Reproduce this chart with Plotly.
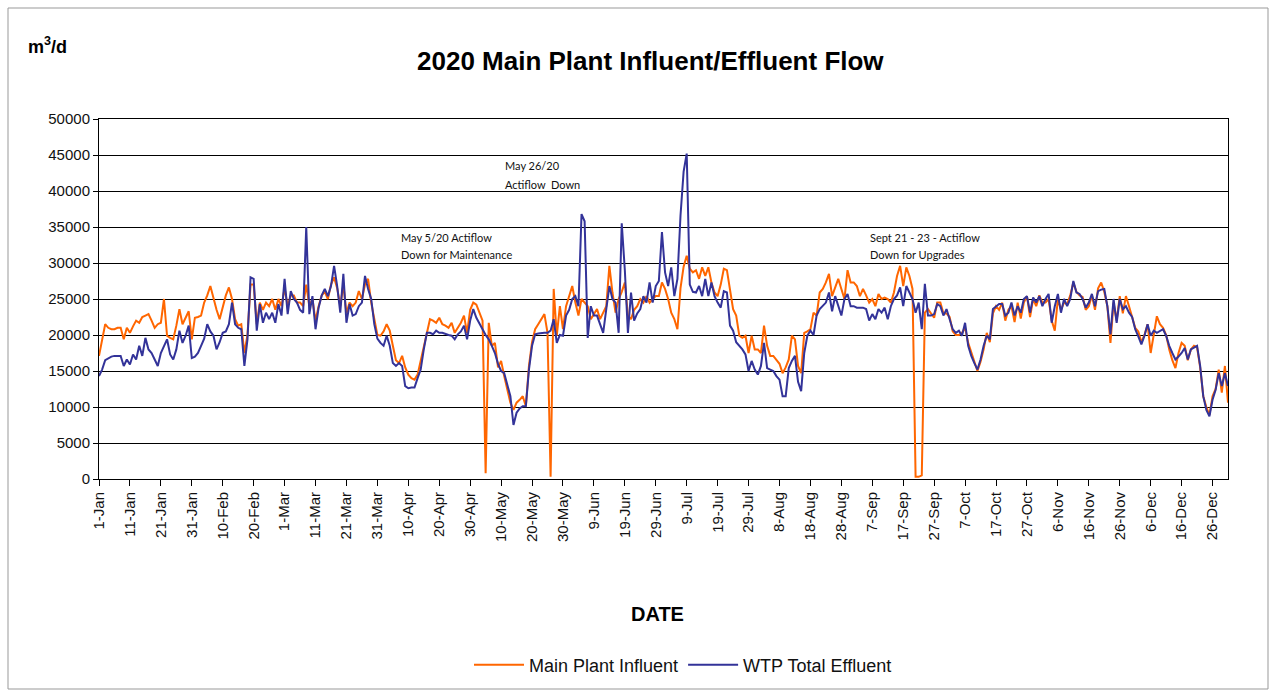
import pandas as pd
import plotly.graph_objects as go

SCALE = 1000  # monthly lists below are in thousands of m3/d

influent_jan = [17.1, 19.5, 21.5, 21.0, 20.8, 20.8, 21.0, 21.0, 19.4, 21.0, 20.3, 21.2, 22.0, 21.7, 22.5, 22.7,
                22.9, 22.0, 21.0, 21.5, 21.7, 25.0, 19.9, 19.6, 19.4, 21.3, 23.6, 21.5, 22.5, 23.3, 19.4]
influent_feb = [22.4, 22.5, 22.7, 24.5, 25.5, 26.8, 25.0, 23.5, 22.2, 24.0, 25.5, 26.6, 25.0, 22.2, 21.3, 21.5,
                17.5, 20.0, 27.0, 27.0, 21.5, 24.5, 23.5, 24.5, 24.0, 25.0, 23.5, 25.0, 24.0]
influent_mar = [26.5, 24.0, 25.5, 25.5, 24.5, 24.5, 24.0, 27.0, 24.0, 25.0, 22.0, 24.0, 25.5, 26.0, 25.0, 27.0,
                28.0, 26.5, 24.0, 27.0, 23.0, 24.5, 24.0, 24.5, 26.1, 25.0, 27.0, 27.8, 24.5, 22.0, 20.0]
influent_apr = [19.9, 20.5, 21.5, 20.6, 18.5, 16.5, 16.1, 17.1, 15.5, 14.5, 14.0, 13.8, 14.5, 16.5, 18.5, 20.1,
                22.2, 22.0, 21.7, 22.4, 21.5, 21.3, 21.0, 21.7, 20.3, 21.0, 21.7, 22.7, 20.3, 23.5]
influent_may = [24.5, 24.2, 23.0, 22.0, 0.8, 21.7, 18.5, 18.9, 15.5, 16.4, 14.3, 12.5, 10.6, 9.6, 10.6, 11.0,
                11.5, 10.1, 15.7, 19.0, 20.8, 21.5, 22.2, 22.9, 20.3, 0.3, 26.4, 19.9, 24.0, 20.8, 24.0]
influent_jun = [25.5, 26.8, 24.5, 22.7, 25.0, 24.5, 24.0, 22.2, 23.0, 23.6, 22.2, 23.1, 24.0, 29.6, 25.9, 23.1,
                25.0, 26.0, 27.3, 22.7, 22.2, 23.5, 24.0, 25.0, 24.5, 25.4, 24.5, 25.0, 25.4, 25.4]
influent_jul = [27.3, 26.4, 25.0, 23.1, 22.2, 20.8, 26.5, 29.5, 31.0, 29.2, 28.7, 29.0, 27.8, 29.4, 28.2, 29.4,
                27.3, 25.9, 25.4, 27.0, 29.2, 29.0, 26.4, 23.6, 22.7, 19.9, 19.6, 19.9, 17.5, 19.9, 18.0]
influent_aug = [18.0, 17.5, 21.3, 18.5, 17.1, 17.1, 16.6, 16.0, 14.7, 15.5, 16.6, 19.9, 19.4, 15.7, 14.7, 20.3,
                20.5, 20.8, 23.1, 22.7, 25.9, 26.4, 27.3, 28.5, 25.4, 26.5, 27.8, 26.4, 25.0, 29.0, 27.3]
influent_sep = [27.3, 26.8, 25.4, 26.4, 25.5, 24.5, 25.0, 24.0, 25.7, 25.0, 25.2, 25.0, 24.5, 25.9, 28.2, 29.6,
                26.8, 29.4, 28.2, 26.4, 0.3, 0.3, 0.5, 23.1, 23.6, 23.0, 22.4, 24.5, 24.5, 23.0]
influent_oct = [23.0, 22.5, 20.5, 20.0, 20.0, 20.3, 21.0, 18.9, 17.5, 16.3, 15.0, 16.3, 18.0, 20.3, 19.0, 23.0,
                24.0, 23.5, 24.5, 22.0, 23.5, 24.0, 21.8, 24.5, 22.3, 24.5, 25.4, 22.5, 25.0, 24.0, 25.5]
influent_nov = [24.5, 24.5, 25.0, 22.0, 20.6, 25.0, 23.5, 24.5, 24.3, 25.5, 27.3, 26.0, 25.5, 25.3, 23.5, 24.0,
                25.5, 23.5, 26.5, 27.3, 26.0, 24.0, 18.9, 24.5, 22.0, 25.4, 23.0, 25.4, 24.0, 22.5]
influent_dec = [21.0, 20.5, 19.0, 20.0, 21.5, 17.5, 20.0, 22.6, 21.5, 21.0, 20.0, 18.0, 16.5, 15.4, 17.5, 18.9,
                18.5, 16.5, 18.0, 18.5, 18.3, 15.5, 11.5, 10.0, 8.9, 11.5, 12.5, 15.2, 12.0, 15.7, 10.6]

effluent_jan = [14.3, 15.2, 16.5, 16.8, 17.0, 17.1, 17.1, 17.1, 15.7, 16.6, 15.9, 17.3, 16.6, 18.5, 17.1, 19.6,
                18.0, 17.5, 16.6, 15.7, 17.5, 18.5, 19.4, 17.3, 16.6, 18.0, 20.6, 18.9, 19.9, 21.3, 16.8]
effluent_feb = [17.0, 17.5, 18.5, 19.5, 21.5, 20.5, 19.9, 18.0, 19.0, 20.3, 20.5, 21.5, 24.5, 21.5, 21.0, 20.8,
                15.7, 19.4, 28.0, 27.8, 20.6, 24.3, 21.7, 23.1, 22.2, 23.1, 21.7, 24.3, 22.7]
effluent_mar = [27.8, 22.9, 26.1, 25.0, 24.5, 23.5, 23.1, 35.0, 22.9, 25.4, 20.8, 23.8, 25.5, 26.4, 25.4, 26.8,
                29.6, 26.8, 23.1, 28.5, 21.7, 24.3, 22.7, 22.9, 24.0, 24.5, 28.2, 26.4, 25.0, 21.5, 19.5]
effluent_apr = [18.9, 18.5, 19.9, 18.5, 16.1, 15.7, 16.1, 15.7, 12.9, 12.6, 12.7, 12.7, 14.0, 15.2, 18.0, 20.3,
                20.3, 20.1, 20.6, 20.3, 20.3, 20.1, 20.0, 19.9, 19.4, 20.1, 20.5, 21.3, 19.4, 22.0]
effluent_may = [23.6, 22.4, 21.5, 20.8, 20.0, 19.4, 18.5, 17.5, 16.0, 15.0, 14.7, 13.0, 11.5, 7.5, 9.2, 9.8,
                10.1, 10.1, 15.2, 18.5, 20.1, 20.2, 20.3, 20.3, 20.3, 20.6, 22.2, 18.9, 20.0, 19.9, 22.7]
effluent_jun = [23.5, 25.0, 25.4, 24.0, 36.8, 35.8, 19.6, 24.0, 22.7, 22.7, 21.5, 20.3, 23.6, 26.8, 25.0, 24.5,
                20.3, 35.5, 29.0, 20.3, 25.9, 22.0, 23.0, 23.6, 25.4, 24.5, 27.3, 24.5, 26.8, 27.5]
effluent_jul = [34.3, 28.7, 26.8, 29.4, 25.4, 27.8, 36.6, 42.7, 45.2, 27.0, 26.0, 25.9, 26.8, 25.4, 27.8, 25.4,
                27.3, 25.4, 24.5, 23.8, 26.1, 25.9, 21.3, 20.6, 19.0, 18.5, 18.0, 17.3, 15.0, 16.4, 15.2]
effluent_aug = [14.5, 15.7, 18.9, 15.4, 15.2, 15.0, 14.3, 13.8, 11.5, 11.5, 15.4, 16.4, 17.1, 13.5, 12.2, 17.5,
                19.9, 20.6, 20.0, 22.7, 23.6, 24.0, 24.5, 25.9, 23.3, 25.4, 24.0, 22.7, 25.0, 25.7, 24.0]
effluent_sep = [24.0, 23.8, 23.8, 23.8, 23.6, 22.0, 22.9, 22.2, 23.6, 23.1, 23.8, 22.2, 24.0, 25.0, 25.5, 26.6,
                24.0, 26.8, 25.9, 25.0, 23.1, 24.5, 20.8, 27.1, 22.7, 22.7, 22.9, 24.3, 24.0, 22.7]
effluent_oct = [23.6, 22.0, 20.8, 20.3, 20.6, 19.9, 21.7, 18.5, 17.1, 16.1, 15.2, 16.6, 18.5, 19.9, 19.4, 23.6,
                24.0, 24.3, 24.3, 22.7, 23.1, 24.5, 22.7, 24.0, 23.1, 25.0, 25.4, 23.1, 25.2, 24.5, 25.4]
effluent_nov = [24.0, 25.0, 25.7, 21.7, 24.0, 25.7, 23.1, 25.0, 24.0, 25.0, 27.5, 25.9, 25.7, 25.0, 23.8, 24.5,
                25.7, 24.0, 26.1, 26.3, 26.4, 24.0, 20.1, 25.0, 21.7, 25.0, 23.6, 24.0, 23.1, 22.5]
effluent_dec = [20.8, 19.8, 18.7, 19.9, 21.5, 19.9, 20.6, 20.3, 20.5, 20.8, 19.9, 18.5, 17.5, 16.6, 17.0, 17.5,
                18.2, 16.6, 18.0, 18.3, 18.5, 15.7, 11.5, 9.6, 8.7, 11.0, 12.4, 14.7, 12.9, 14.7, 12.9]

tick_labels = ["1-Jan", "11-Jan", "21-Jan", "31-Jan", "10-Feb", "20-Feb", "1-Mar", "11-Mar", "21-Mar",
               "31-Mar", "10-Apr", "20-Apr", "30-Apr", "10-May", "20-May", "30-May", "9-Jun", "19-Jun",
               "29-Jun", "9-Jul", "19-Jul", "29-Jul", "8-Aug", "18-Aug", "28-Aug", "7-Sep", "17-Sep",
               "27-Sep", "7-Oct", "17-Oct", "27-Oct", "6-Nov", "16-Nov", "26-Nov", "6-Dec", "16-Dec", "26-Dec"]
y_ticks = [0, 5000, 10000, 15000, 20000, 25000, 30000, 35000, 40000, 45000, 50000]

influent_months = [influent_jan, influent_feb, influent_mar, influent_apr, influent_may, influent_jun,
                   influent_jul, influent_aug, influent_sep, influent_oct, influent_nov, influent_dec]
effluent_months = [effluent_jan, effluent_feb, effluent_mar, effluent_apr, effluent_may, effluent_jun,
                   effluent_jul, effluent_aug, effluent_sep, effluent_oct, effluent_nov, effluent_dec]
influent = [v * SCALE for m in influent_months for v in m]
effluent = [v * SCALE for m in effluent_months for v in m]
dates = pd.date_range("2020-01-01", "2020-12-31", freq="D")
tick_dates = list(dates[::10])

W, H = 1276, 694
L, R, T, B = 99, 1228, 119, 479


def px(x):
    return (x - L) / (R - L)


def py(y):
    return (B - y) / (B - T)


FONT = "Liberation Sans, Arial, sans-serif"
NOTE_FONT = "Lato, Open Sans, sans-serif"

fig = go.Figure()
fig.add_trace(go.Scatter(x=dates, y=influent, mode="lines", name="Main Plant Influent",
                         line=dict(color="#FF6600", width=2)))
fig.add_trace(go.Scatter(x=dates, y=effluent, mode="lines", name="WTP Total Effluent",
                         line=dict(color="#333399", width=2)))

notes = [
    ("May 26/20", 503, 165),
    ("Actiflow  Down", 503, 184),
    ("May 5/20 Actiflow", 399, 237),
    ("Down for Maintenance", 399, 254),
    ("Sept 21 - 23 - Actiflow", 868, 237),
    ("Down for Upgrades", 868, 254),
]
annotations = [dict(text=t, x=px(x0), y=py(y0), xref="paper", yref="paper", xanchor="left",
                    yanchor="middle", showarrow=False, font=dict(family=NOTE_FONT, size=11, color="#111"))
               for t, x0, y0 in notes]
annotations += [
    dict(text="<b>2020 Main Plant Influent/Effluent Flow</b>", x=px(650), y=py(61), xref="paper",
         yref="paper", xanchor="center", yanchor="middle", showarrow=False,
         font=dict(family=FONT, size=26, color="#000")),
    dict(text="<b>m<sup>3</sup>/d</b>", x=px(26), y=py(45), xref="paper", yref="paper",
         xanchor="left", yanchor="middle", showarrow=False, font=dict(family=FONT, size=18, color="#000")),
    dict(text="<b>DATE</b>", x=px(657), y=py(614), xref="paper", yref="paper", xanchor="center",
         yanchor="middle", showarrow=False, font=dict(family=FONT, size=20, color="#000")),
]

fig.update_layout(
    width=W, height=H,
    margin=dict(l=L, r=W - R, t=T, b=H - B, autoexpand=False),
    paper_bgcolor="white", plot_bgcolor="white",
    font=dict(family=FONT, size=15, color="#111"),
    showlegend=True,
    legend=dict(orientation="h", x=px(683), y=py(665), xanchor="center", yanchor="middle",
                itemwidth=50, font=dict(family=FONT, size=18, color="#111"), bgcolor="rgba(0,0,0,0)"),
    annotations=annotations,
    shapes=[dict(type="rect", xref="paper", yref="paper", x0=px(8), x1=px(1268), y0=py(689), y1=py(8),
                 line=dict(color="#999", width=1), layer="below")],
    hovermode=False,
)
fig.update_xaxes(
    range=[dates[0], dates[-1]], tickmode="array", tickvals=tick_dates, ticktext=tick_labels,
    tickangle=-90, ticks="outside", ticklen=6, tickcolor="#000", showgrid=False,
    showline=True, linecolor="#000", linewidth=1, mirror=True, tickfont=dict(size=15), zeroline=False,
)
fig.update_yaxes(
    range=[0, 50000], tickmode="array", tickvals=y_ticks, tickformat="d", ticks="outside", ticklen=5,
    tickcolor="#000", showgrid=True, gridcolor="#000", gridwidth=1, showline=True, linecolor="#000",
    linewidth=1, mirror=True, zeroline=False, tickfont=dict(size=15),
)

fig.write_html("out.html", config={"displayModeBar": False},
               post_script="document.body.style.margin='0';")
